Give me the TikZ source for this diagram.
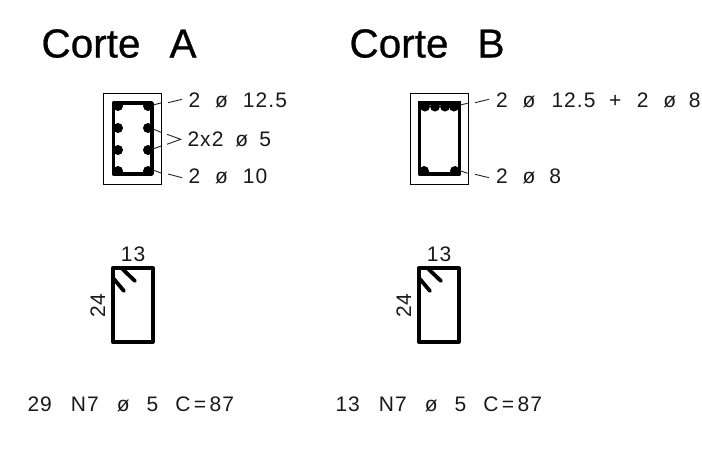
\documentclass[tikz,border=0pt]{standalone}
\usepackage{fontspec}
\newfontfamily\cadfont[LetterSpace=5]{Liberation Sans}
\newfontfamily\cadtitle[FakeBold=0.6]{Liberation Sans}
\newcommand{\gp}[1]{\hspace{#1pt}}
\tikzset{
  smalltext/.style={anchor=base west,inner sep=0pt,outer sep=0pt,font=\cadfont\fontsize{21}{22}\selectfont,text=black!90},
  titletext/.style={anchor=base west,inner sep=0pt,outer sep=0pt,font=\cadtitle\fontsize{40.5}{41}\selectfont,text=black},
  outerbox/.style={draw=black,line width=1pt},
  stirrup/.style={draw=black,line width=3.5pt,line join=round},
  stirrupshape/.style={draw=black,line width=3.8pt,line join=round,line cap=round},
  leader/.style={draw=black!85,line width=0.9pt},
  rebar/.style={fill=black}
}
\begin{document}
\begin{tikzpicture}[x=1pt,y=-1pt]
\useasboundingbox (0,0) rectangle (702,450);
\fill[white] (0,0) rectangle (702,450);

\node[titletext] (ta) at (41.5,57.5) {Corte\gp{29}A};
\node[titletext] (tb) at (349.5,57.5) {Corte\gp{29}B};

% Section A
\draw[outerbox] (103.5,93) rectangle (161,184);
\draw[stirrup] (113.5,103) rectangle (152,174);
\foreach \x/\y in {118/106,148/106,118/128,148/128,118/150,148/150,118/171,148/171}
  \fill[rebar] (\x,\y) circle (5);
\draw[leader] (153,105) -- (161,103);
\draw[leader] (168,102.7) -- (182,99.3);
\draw[leader] (153,129) -- (161,132.3);
\draw[leader] (167,134.3) -- (180.7,139.3) -- (167,144.3);
\draw[leader] (161,146) -- (153,149);
\draw[leader] (153,170) -- (161,173);
\draw[leader] (168,174) -- (182,177.7);
\node[smalltext] (a1) at (188.5,107.3) {2\gp{15}ø\gp{15}12.5};
\node[smalltext] (a2) at (187.5,146.7) {2x2\gp{12}ø\gp{11}5};
\node[smalltext] (a3) at (188.5,183) {2\gp{15}ø\gp{15}10};

% Section B
\draw[outerbox] (410,93) rectangle (468,184);
\draw[stirrup] (419.5,103) rectangle (459.5,174);
\fill[rebar] (418,101) rectangle (461,105);
\foreach \x/\y in {425/106.5,435/106.5,445/106.5,454/106.5,424/171,455/171}
  \fill[rebar] (\x,\y) circle (5);
\draw[leader] (460,105) -- (467.7,103.3);
\draw[leader] (475,102.7) -- (489,99.3);
\draw[leader] (460,170.7) -- (467.7,173.3);
\draw[leader] (475,174.3) -- (489,177.7);
\node[smalltext] (b1) at (496,107.3) {2\gp{15}ø\gp{16}12.5\gp{13.5}+\gp{15.5}2\gp{15}ø\gp{12.5}8};
\node[smalltext] (b2) at (496,183) {2\gp{15}ø\gp{14}8};

% Stirrup shapes
\foreach \dx/\nm in {0/a,306/b}{
  \begin{scope}[xshift=\dx pt]
    \draw[stirrupshape] (112.7,268) rectangle (152.7,341.7);
    \draw[stirrupshape] (121.7,268.3) -- (135,281);
    \draw[stirrupshape] (113.3,278.3) -- (124,291);
    \node[smalltext,anchor=base] (w\nm) at (133,261) {13};
    \node[smalltext,anchor=base,rotate=90] (h\nm) at (105,305.5) {24};
  \end{scope}
}

\node[smalltext] (la) at (27.5,411.7) {29\gp{19}N7\gp{18}ø\gp{17}5\gp{17}C\gp{3.5}=\gp{3.5}87};
\node[smalltext] (lb) at (335.5,411.7) {13\gp{19}N7\gp{18}ø\gp{17}5\gp{17}C\gp{3.5}=\gp{3.5}87};
\end{tikzpicture}
\end{document}
